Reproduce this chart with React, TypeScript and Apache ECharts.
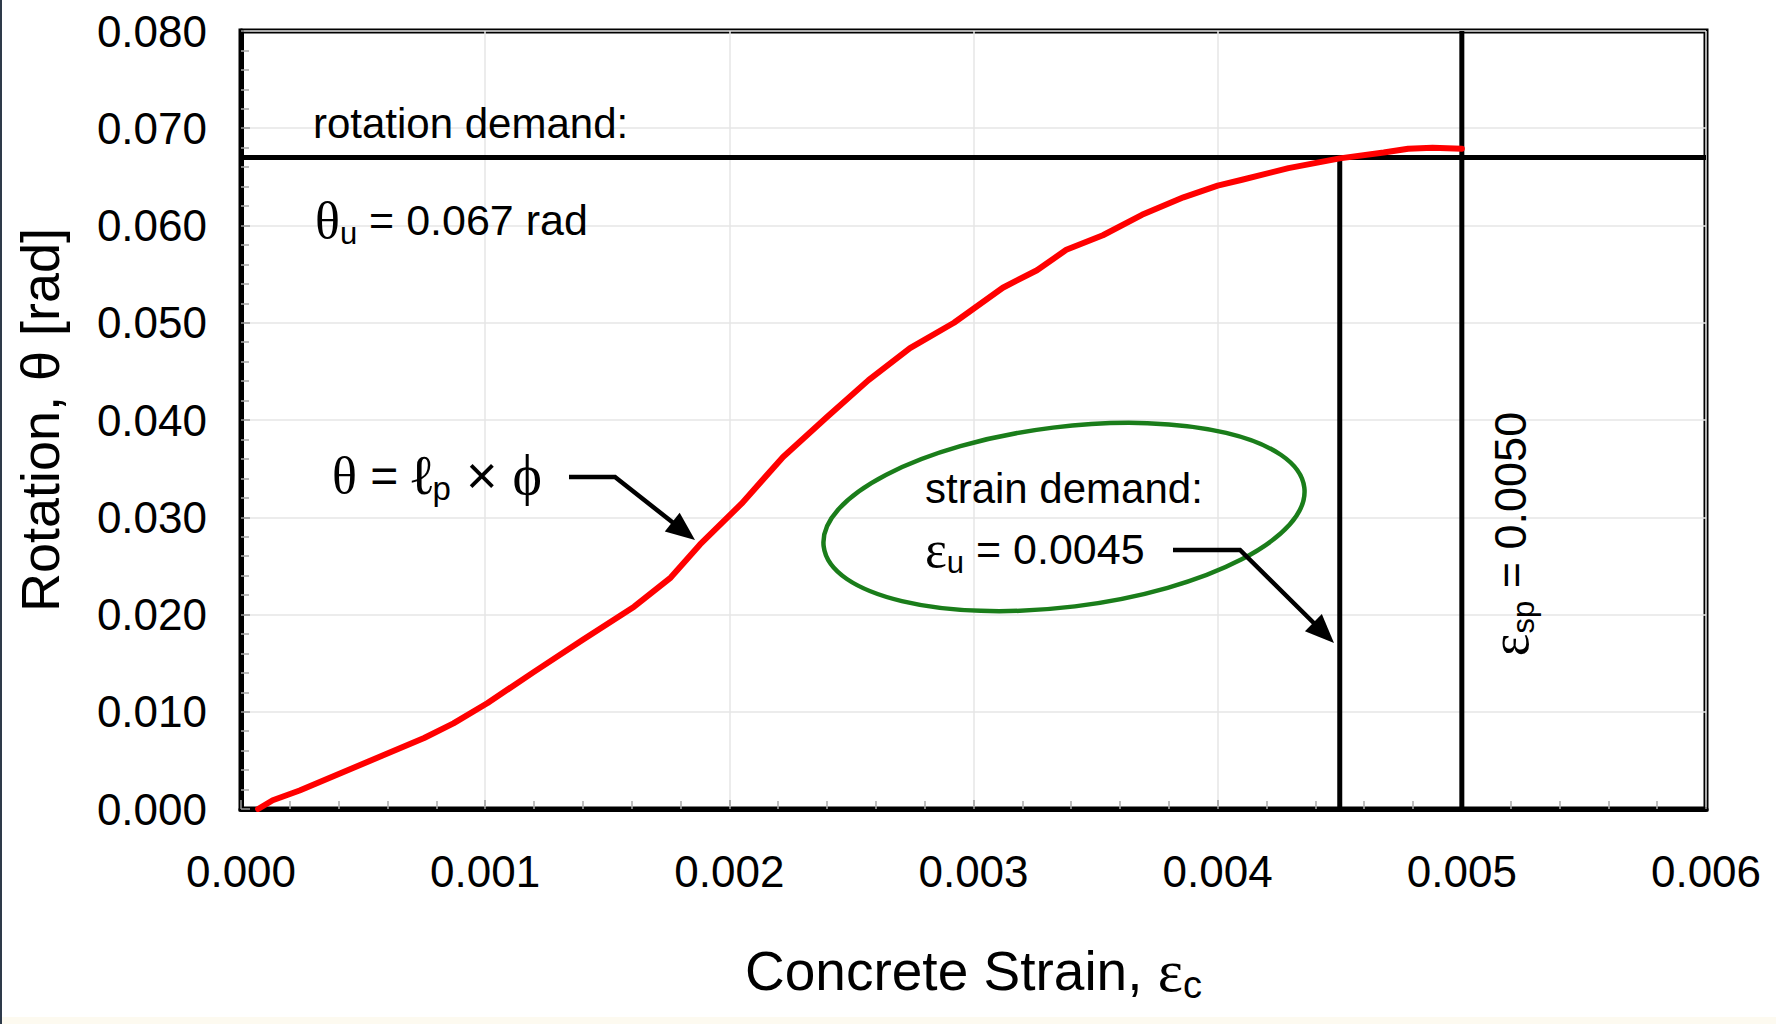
import React, { useEffect, useRef } from "react";
import * as echarts from "echarts";

// ---- data ----
const strainValues = [
  0.00007, 0.00013, 0.00024, 0.00041, 0.00058, 0.00075, 0.00087, 0.00101, 0.0012, 0.0014,
  0.00161, 0.00176, 0.00188, 0.00205, 0.00222, 0.0024, 0.00257, 0.00274, 0.00292, 0.00312,
  0.00326, 0.00338, 0.00353, 0.00369, 0.00386, 0.004, 0.0041, 0.00429, 0.0045, 0.00468,
  0.00478, 0.00488, 0.005,
];
const rotationValues = [
  0.0, 0.0009, 0.0019, 0.0037, 0.0055, 0.0073, 0.0088, 0.0109, 0.0141, 0.0174,
  0.0208, 0.0238, 0.0272, 0.0314, 0.0362, 0.0403, 0.0441, 0.0474, 0.05, 0.0536,
  0.0554, 0.0575, 0.059, 0.0611, 0.0629, 0.0641, 0.0647, 0.0659, 0.0669, 0.0675,
  0.0679, 0.068, 0.0679,
];
const xAxisRange = [0, 0.006];
const yAxisRange = [0, 0.08];
const xTickStep = 0.001;
const yTickStep = 0.01;
const rotationDemand = 0.067;
const strainDemand = 0.0045;
const spallingStrain = 0.005;

const SANS = "'Liberation Sans', Arial, Helvetica, sans-serif";
const SERIF = "'Liberation Serif', 'Times New Roman', 'DejaVu Serif', serif";

function arrow(points: number[][], head = 29, halfW = 12) {
  const [x1, y1] = points[points.length - 2];
  const [x2, y2] = points[points.length - 1];
  const dx = x2 - x1;
  const dy = y2 - y1;
  const L = Math.hypot(dx, dy);
  const ux = dx / L;
  const uy = dy / L;
  const bx = x2 - ux * head;
  const by = y2 - uy * head;
  const linePts = [...points.slice(0, -1), [x2 - ux * head * 0.6, y2 - uy * head * 0.6]];
  return [
    {
      type: "polyline",
      shape: { points: linePts },
      style: { stroke: "#000", lineWidth: 4.5, fill: null },
      z: 20,
    },
    {
      type: "polygon",
      shape: {
        points: [
          [x2, y2],
          [bx - uy * halfW, by + ux * halfW],
          [bx + uy * halfW, by - ux * halfW],
        ],
      },
      style: { fill: "#000" },
      z: 20,
    },
  ];
}

// rich-text styles: main tokens centred in a line of height L, subscript
// token pinned to the bottom of the line
function mainTok(family: string, size: number, L: number, extra: any = {}) {
  return { fontFamily: family, fontSize: size, lineHeight: L, verticalAlign: "middle", fill: "#000", color: "#000", ...extra };
}
function subTok(size: number) {
  return { fontFamily: SANS, fontSize: size, lineHeight: 10, verticalAlign: "bottom", fill: "#000", color: "#000" };
}

export default function App() {
  const ref = useRef<HTMLDivElement>(null);

  useEffect(() => {
    document.body.style.margin = "0";
    const chart = echarts.init(ref.current as HTMLDivElement, null, { renderer: "svg" });

    const curve = strainValues.map((s, i) => [s, rotationValues[i]]);

    const option: any = {
      animation: false,
      backgroundColor: "#ffffff",
      grid: {
        left: 241,
        top: 31,
        right: 70,
        bottom: 215,
        show: true,
        borderColor: "#000",
        borderWidth: 5,
        backgroundColor: "transparent",
      },
      xAxis: {
        type: "value",
        min: xAxisRange[0],
        max: xAxisRange[1],
        interval: xTickStep,
        name: "{m|Concrete Strain, }{e|ε}{c|c}",
        nameLocation: "middle",
        nameGap: 129,
        nameTextStyle: {
          rich: {
            m: mainTok(SANS, 55, 66),
            e: mainTok(SERIF, 60, 66),
            c: subTok(38),
          },
        },
        axisLine: { show: true, lineStyle: { color: "#000", width: 5 } },
        axisTick: { show: true, inside: true, length: 9, lineStyle: { color: "#999", width: 1.5 } },
        minorTick: { show: true, splitNumber: 5, length: 8, lineStyle: { color: "#aaa", width: 1.5 } },
        splitLine: { show: true, lineStyle: { color: "#e6e6e6", width: 1.5 } },
        axisLabel: {
          margin: 40,
          fontFamily: SANS,
          fontSize: 44,
          color: "#000",
          formatter: (v: number) => v.toFixed(3),
        },
      },
      yAxis: {
        type: "value",
        min: yAxisRange[0],
        max: yAxisRange[1],
        interval: yTickStep,
        name: "Rotation, θ [rad]",
        nameLocation: "middle",
        nameGap: 174,
        nameRotate: 90,
        nameTextStyle: { fontFamily: SANS, fontSize: 54, color: "#000" },
        axisLine: { show: true, lineStyle: { color: "#000", width: 5 } },
        axisTick: { show: true, inside: true, length: 9, lineStyle: { color: "#999", width: 1.5 } },
        minorTick: { show: true, splitNumber: 5, length: 8, lineStyle: { color: "#aaa", width: 1.5 } },
        splitLine: { show: true, lineStyle: { color: "#e6e6e6", width: 1.5 } },
        axisLabel: {
          margin: 34,
          fontFamily: SANS,
          fontSize: 44,
          color: "#000",
          formatter: (v: number) => v.toFixed(3),
        },
      },
      series: [
        {
          type: "line",
          name: "rotation demand",
          data: [
            [xAxisRange[0], rotationDemand],
            [xAxisRange[1], rotationDemand],
          ],
          showSymbol: false,
          silent: true,
          lineStyle: { color: "#000", width: 5 },
          z: 3,
        },
        {
          type: "line",
          name: "strain demand",
          data: [
            [strainDemand, yAxisRange[0]],
            [strainDemand, rotationDemand],
          ],
          showSymbol: false,
          silent: true,
          lineStyle: { color: "#000", width: 5 },
          z: 3,
        },
        {
          type: "line",
          name: "spalling strain",
          data: [
            [spallingStrain, yAxisRange[0]],
            [spallingStrain, yAxisRange[1]],
          ],
          showSymbol: false,
          silent: true,
          lineStyle: { color: "#000", width: 5 },
          z: 3,
        },
        {
          type: "line",
          name: "rotation",
          data: curve,
          showSymbol: false,
          silent: true,
          lineStyle: { color: "#ff0000", width: 6, cap: "round", join: "round" },
          z: 4,
        },
      ],
      graphic: [
        { type: "rect", shape: { x: 0, y: 0, width: 2, height: 1024 }, style: { fill: "#2e3a4a" }, z: 30 },
        { type: "rect", shape: { x: 0, y: 1017, width: 1776, height: 7 }, style: { fill: "#fdfaf0" }, z: 0 },
        {
          type: "text",
          x: 313,
          y: 123,
          style: {
            text: "rotation demand:",
            font: `42px ${SANS}`,
            fill: "#000",
            textAlign: "left",
            verticalAlign: "middle",
          },
          z: 20,
        },
        {
          type: "text",
          x: 315,
          y: 220,
          style: {
            text: "{t|θ}{s|u}{n| = 0.067 rad}",
            textAlign: "left",
            verticalAlign: "middle",
            rich: {
              t: mainTok(SERIF, 52, 57),
              n: mainTok(SANS, 43, 57),
              s: subTok(31),
            },
          },
          z: 20,
        },
        {
          type: "text",
          x: 332,
          y: 475,
          style: {
            text: "{t|θ}{n| = }{l|ℓ}{s|p}{x| × }{f|ϕ}",
            textAlign: "left",
            verticalAlign: "middle",
            rich: {
              t: mainTok(SERIF, 52, 59),
              n: mainTok(SANS, 48, 59),
              x: mainTok(SANS, 54, 59),
              l: mainTok(SERIF, 56, 59, { fontWeight: "bold" }),
              f: mainTok(SERIF, 56, 59),
              s: subTok(33),
            },
          },
          z: 20,
        },
        ...arrow([
          [569, 477],
          [615, 477],
          [695, 540],
        ]),
        {
          type: "ellipse",
          x: 1064,
          y: 517,
          rotation: (7 * Math.PI) / 180,
          shape: { cx: 0, cy: 0, rx: 242, ry: 90 },
          style: { fill: null, stroke: "#1a7d1a", lineWidth: 4.5 },
          z: 19,
        },
        {
          type: "text",
          x: 925,
          y: 488,
          style: {
            text: "strain demand:",
            font: `42px ${SANS}`,
            fill: "#000",
            textAlign: "left",
            verticalAlign: "middle",
          },
          z: 20,
        },
        {
          type: "text",
          x: 925,
          y: 549,
          style: {
            text: "{e|ε}{s|u}{n| = 0.0045}",
            textAlign: "left",
            verticalAlign: "middle",
            rich: {
              e: mainTok(SERIF, 52, 57),
              n: mainTok(SANS, 43, 57),
              s: subTok(31),
            },
          },
          z: 20,
        },
        ...arrow([
          [1173, 550],
          [1240, 550],
          [1334, 643],
        ]),
        {
          type: "text",
          x: 1510,
          y: 534,
          rotation: Math.PI / 2,
          style: {
            text: "{e|ε}{s|sp}{n| = 0.0050}",
            textAlign: "center",
            verticalAlign: "middle",
            rich: {
              e: mainTok(SERIF, 54, 57),
              n: mainTok(SANS, 45, 57),
              s: subTok(31),
            },
          },
          z: 20,
        },
      ],
    };

    chart.setOption(option);
    return () => chart.dispose();
  }, []);

  return <div ref={ref} style={{ width: 1776, height: 1024, background: "#fff" }} />;
}
